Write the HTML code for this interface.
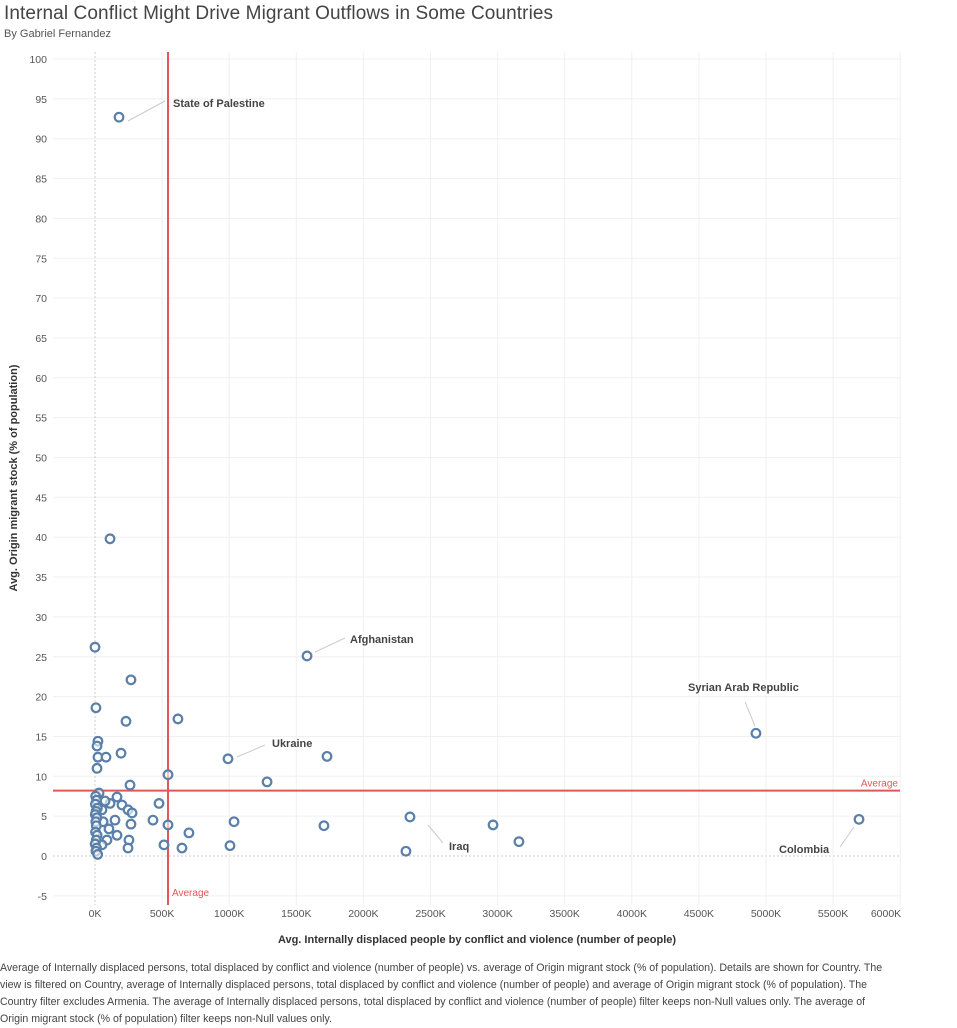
<!DOCTYPE html>
<html><head><meta charset="utf-8"><style>
body{margin:0;width:957px;height:1023px;background:#fff;font-family:"Liberation Sans",sans-serif;overflow:hidden;position:relative}
#title{position:absolute;left:4px;top:3px;font-size:19px;color:#444;letter-spacing:0.1px}
#sub{position:absolute;left:4px;top:28px;font-size:11px;color:#555}
#foot{position:absolute;left:0;top:960px;width:888px;font-size:10.6px;line-height:17px;color:#444}
svg{position:absolute;left:0;top:0}
</style></head><body>
<div id="title">Internal Conflict Might Drive Migrant Outflows in Some Countries</div>
<div id="sub">By Gabriel Fernandez</div>
<svg id="chart" width="957" height="960"></svg>
<div id="foot">Average of Internally displaced persons, total displaced by conflict and violence (number of people) vs. average of Origin migrant stock (% of population).  Details are shown for Country. The view is filtered on Country, average of Internally displaced persons, total displaced by conflict and violence (number of people) and average of Origin migrant stock (% of population). The Country filter excludes Armenia. The average of Internally displaced persons, total displaced by conflict and violence (number of people) filter keeps non-Null values only. The average of Origin migrant stock (% of population) filter keeps non-Null values only.</div>
<script>
const xTicks=[0,500,1000,1500,2000,2500,3000,3500,4000,4500,5000,5500,6000];
const yTicks=[-5,0,5,10,15,20,25,30,35,40,45,50,55,60,65,70,75,80,85,90,95,100];
const displacedK=[179,112,0,1580,268,7,231,618,22,15,194,22,82,991,1729,15,544,1282,261,4925,5693,2347,2966,3159,2317,1706,1036,1006,700,648,514,544,432,477,164,30,112,201,246,276,268,149,104,60,164,253,246,89,52,75,52,5,12,3,18,8,2,14,6,10,4,16,9,1,12,7,20];
const migrantPct=[92.7,39.8,26.2,25.1,22.1,18.6,16.9,17.2,14.4,13.8,12.9,12.4,12.4,12.2,12.5,11,10.2,9.3,8.9,15.4,4.6,4.9,3.9,1.8,0.6,3.8,4.3,1.3,2.9,1.0,1.4,3.9,4.5,6.6,7.4,7.9,6.6,6.4,5.8,5.4,4.0,4.5,3.4,4.3,2.6,2.0,1.0,2.0,1.4,6.9,5.8,7.5,7.0,6.5,6.0,5.6,5.2,4.8,4.3,3.8,3.0,2.6,2.0,1.5,1.0,0.6,0.2];
const labels=[["State of Palestine",179,92.7,173,103,128,121,165,101],["Afghanistan",1580,25.1,350,639,315,652,345,638],["Syrian Arab Republic",4925,15.4,688,687,745,702,755,726],["Ukraine",991,12.2,272,743,237,757,265,745],["Iraq",2347,4.9,449,846,428,825,443,843],["Colombia",5693,4.6,779,849,840,847,854,827]];
const avgX=544, avgY=8.2;
const NS="http://www.w3.org/2000/svg";
const svg=document.getElementById('chart');
const X=v=>95+v*0.1342, Y=v=>856-v*7.97;
function mk(t,a,p){const e=document.createElementNS(NS,t);for(const k in a)e.setAttribute(k,a[k]);(p||svg).appendChild(e);return e;}
const L=53,R=900,T=52,B=905;
yTicks.forEach(v=>{
 const g=mk('line',{x1:L,x2:R,y1:Y(v),y2:Y(v),stroke:v===0?'#ccc':'#f0f0f0','stroke-width':1,'stroke-dasharray':v===0?'2,2':''});
 
 
 const t=mk('text',{x:47,y:Y(v)+4,'text-anchor':'end','font-size':10.5,fill:'#555'});t.textContent=v;
 
 
});
xTicks.forEach(v=>{
 const g=mk('line',{x1:X(v),x2:X(v),y1:T,y2:B,stroke:v===0?'#ccc':'#f0f0f0','stroke-width':1,'stroke-dasharray':v===0?'2,2':''});
 
 
 const t=mk('text',{x:Math.min(X(v),886),y:917,'text-anchor':'middle','font-size':10.5,fill:'#555'});t.textContent=v+'K';
 
 
});
const xt=mk('text',{x:477,y:943,'text-anchor':'middle','font-size':11,'font-weight':'bold',fill:'#333'});xt.textContent='Avg. Internally displaced people by conflict and violence (number of people)';


const yt=mk('text',{x:0,y:0,'text-anchor':'middle','font-size':11,'font-weight':'bold',fill:'#333',transform:'translate(17,478) rotate(-90)'});yt.textContent='Avg. Origin migrant stock (% of population)';


const rv=mk('line',{x1:X(avgX),x2:X(avgX),y1:T,y2:B,stroke:'#e15759','stroke-width':2});


const rh=mk('line',{x1:L,x2:R,y1:Y(avgY),y2:Y(avgY),stroke:'#e15759','stroke-width':2});


const a1=mk('text',{x:898,y:Y(avgY)-4,'text-anchor':'end','font-size':10,fill:'#e15759'});a1.textContent='Average';


const a2=mk('text',{x:X(avgX)+4,y:896,'font-size':10,fill:'#e15759'});a2.textContent='Average';


displacedK.forEach((d,i)=>{
 const c=mk('circle',{cx:X(d),cy:Y(migrantPct[i]),r:4.3,fill:'#fff','fill-opacity':0.6,stroke:'#5a7fa8','stroke-width':2.2});
 
 
});
labels.forEach(l=>{
 const ln=mk('line',{x1:l[5],y1:l[6],x2:l[7],y2:l[8],stroke:'#ccc','stroke-width':1});
 
 
 const t=mk('text',{x:l[3],y:l[4]+4,'font-size':11,'font-weight':'bold',fill:'#444'});t.textContent=l[0];
 
 
});
</script>
</body></html>
